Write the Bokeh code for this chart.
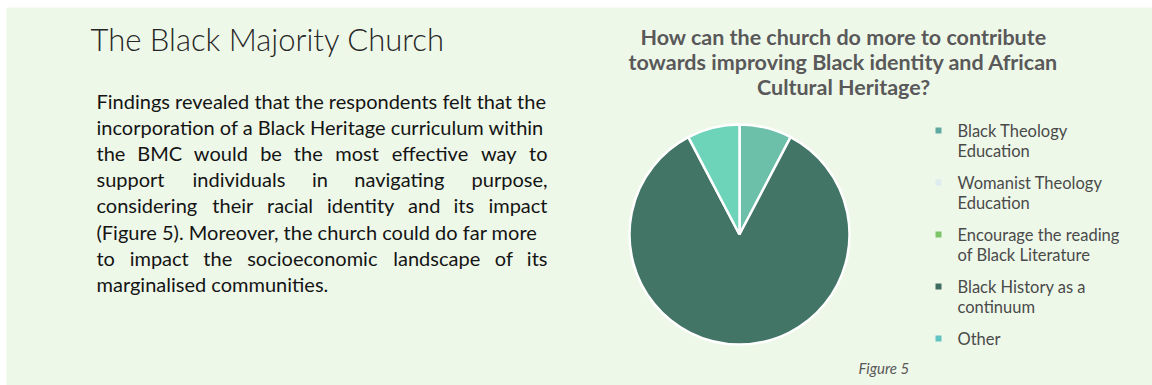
import numpy as np
from bokeh.plotting import figure
from bokeh.models import Range1d, ColumnDataSource
from bokeh.core.properties import value
from bokeh.embed import file_html
from bokeh.resources import INLINE

# ---- data ----
categories = ["Black Theology Education", "Womanist Theology Education",
              "Encourage the reading of Black Literature",
              "Black History as a continuum", "Other"]
legend_lines = [["Black Theology", "Education"],
                ["Womanist Theology", "Education"],
                ["Encourage the reading", "of Black Literature"],
                ["Black History as a", "continuum"],
                ["Other"]]
counts = [1, 0, 0, 11, 1]
slice_colors = ["#6cbfa9", "#dcecef", "#7dc46a", "#437567", "#6dd4b9"]
legend_colors = ["#5fa9a1", "#dcecef", "#7dc46a", "#3f6b60", "#5fc4c2"]

title = "The Black Majority Church"
paragraph = [
    "Findings revealed that the respondents felt that the",
    "incorporation of a Black Heritage curriculum within",
    "the BMC would be the most effective way to",
    "support individuals in navigating purpose,",
    "considering their racial identity and its impact",
    "(Figure 5). Moreover, the church could do far more",
    "to impact the socioeconomic landscape of its",
    "marginalised communities.",
]
chart_title = ["How can the church do more to contribute",
               "towards improving Black identity and African",
               "Cultural Heritage?"]
caption = "Figure 5"

W, H = 1152, 385
FONT = "Lato"

p = figure(width=W, height=H, x_range=Range1d(0, W), y_range=Range1d(0, H),
           x_axis_type=None, y_axis_type=None, toolbar_location=None,
           output_backend="svg", min_border=0)
p.outline_line_color = None
p.background_fill_color = "white"
p.border_fill_color = "white"
p.xgrid.visible = False
p.ygrid.visible = False

def Y(s):
    return H - s

# green panel
p.quad(left=6, right=W, top=Y(7), bottom=0, fill_color="#eef8e9", line_color=None)

# slide title
p.text(x=[90], y=[Y(38)], text=[title], text_font=value("Lato Light"),
       text_font_size="31px", text_color="#262626", text_baseline="middle")

# paragraph (justified by word placement, approximate Lato advance widths)
EM = {'a': .51, 'b': .56, 'c': .46, 'd': .56, 'e': .52, 'f': .33, 'g': .50, 'h': .56,
      'i': .24, 'j': .24, 'k': .50, 'l': .24, 'm': .84, 'n': .56, 'o': .56, 'p': .55,
      'q': .56, 'r': .37, 's': .43, 't': .36, 'u': .56, 'v': .51, 'w': .77, 'x': .49,
      'y': .51, 'z': .45, 'B': .63, 'C': .66, 'M': .86, 'F': .54, 'H': .74,
      '.': .2, ',': .2, '(': .3, ')': .3, '5': .58}
FS = 20.0
def wwidth(w):
    return sum(EM.get(ch, .55) for ch in w) * FS * 1.03

PL, PR = 96, 547
groups = {"left": ([], [], []), "center": ([], [], []), "right": ([], [], [])}
for i, line in enumerate(paragraph):
    yy = Y(100 + 26.2 * i)
    words = line.split()
    widths = [wwidth(w) for w in words]
    gap = (PR - PL - sum(widths)) / (len(words) - 1)
    if i == len(paragraph) - 1 or gap < 7:
        groups["left"][0].append(PL); groups["left"][1].append(yy); groups["left"][2].append(line)
        continue
    xcur = PL
    for j, (w, wd) in enumerate(zip(words, widths)):
        if j == 0:
            g = "left"; xx = PL
        elif j == len(words) - 1:
            g = "right"; xx = PR
        else:
            g = "center"; xx = xcur + wd / 2
        groups[g][0].append(xx); groups[g][1].append(yy); groups[g][2].append(w)
        xcur += wd + gap
for align, (xs, ys, ts) in groups.items():
    p.text(x=xs, y=ys, text=ts, text_font=value(FONT), text_font_size="20px",
           text_color="#141414", text_baseline="middle", text_align=align)

# chart title
cy = [Y(36 + 25 * i) for i in range(len(chart_title))]
p.text(x=[843] * len(chart_title), y=cy, text=chart_title, text_font=value(FONT),
       text_font_size="21.5px", text_font_style="bold", text_color="#595959",
       text_align="center", text_baseline="middle")

# pie
vals = np.array(counts, dtype=float)
frac = vals / vals.sum()
ends = np.pi / 2 - 2 * np.pi * np.cumsum(frac)
starts = np.concatenate([[np.pi / 2], ends[:-1]])
mask = vals > 0
src = ColumnDataSource(dict(start=starts[mask], end=ends[mask],
                            color=[c for c, m in zip(slice_colors, mask) if m]))
p.wedge(x=739, y=Y(234), radius=110, start_angle="end", end_angle="start",
        fill_color="color", line_color="white", line_width=2.5, source=src)

# legend
ly0 = 130
gap = 52
for i, (lines, col) in enumerate(zip(legend_lines, legend_colors)):
    top = ly0 + gap * i
    p.rect(x=[938], y=[Y(top)], width=6, height=6, fill_color=col, line_color=None)
    p.text(x=[957] * len(lines), y=[Y(top + 20 * k) for k in range(len(lines))],
           text=lines, text_font=value(FONT), text_font_size="16.5px",
           text_color="#4a4a4a", text_baseline="middle")

# caption
p.text(x=[858], y=[Y(367)], text=[caption], text_font=value(FONT),
       text_font_size="15px", text_font_style="italic", text_color="#595959",
       text_baseline="middle")

open("out.html", "w").write(file_html(p, INLINE))
